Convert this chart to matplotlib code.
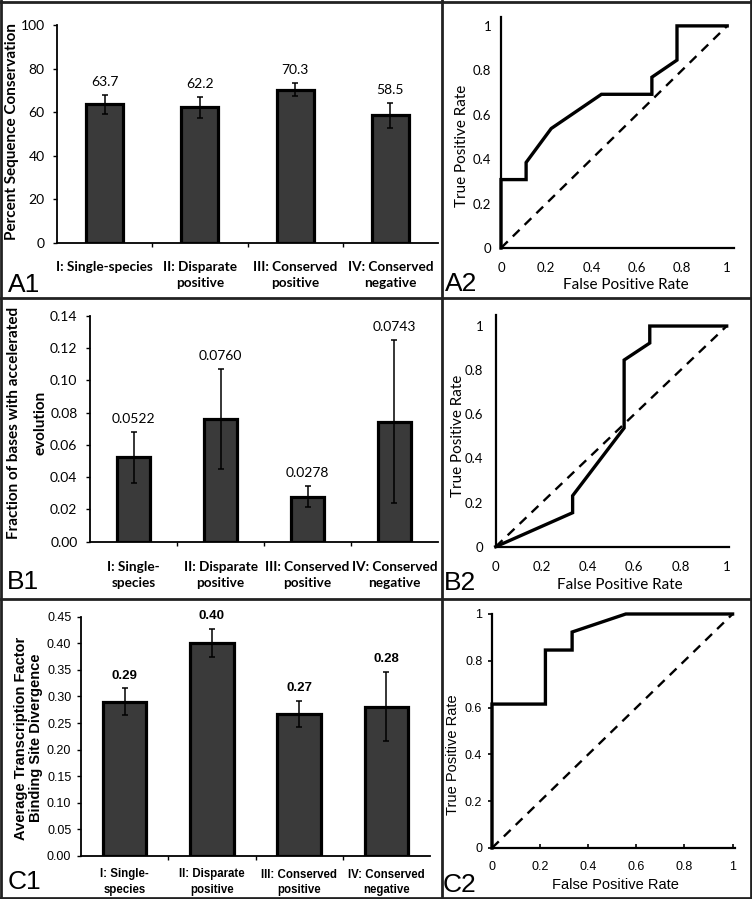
import matplotlib
matplotlib.use("Agg")
import matplotlib.pyplot as plt
from matplotlib.lines import Line2D
import numpy as np

# ---- data ----
cats_a = ["I: Single-species", "II: Disparate\npositive", "III: Conserved\npositive", "IV: Conserved\nnegative"]
cats_bc = ["I: Single-\nspecies", "II: Disparate\npositive", "III: Conserved\npositive", "IV: Conserved\nnegative"]

a1_vals = [63.7, 62.2, 70.3, 58.5]
a1_err = [4.4, 5.0, 3.0, 5.6]
a1_labels = ["63.7", "62.2", "70.3", "58.5"]

b1_vals = [0.0522, 0.0760, 0.0278, 0.0743]
b1_err = [0.0158, 0.031, 0.0065, 0.0505]
b1_labels = ["0.0522", "0.0760", "0.0278", "0.0743"]

c1_vals = [0.290, 0.401, 0.267, 0.281]
c1_err = [0.025, 0.026, 0.024, 0.065]
c1_labels = ["0.29", "0.40", "0.27", "0.28"]

a2_fpr = [0, 0, 0.111, 0.111, 0.222, 0.444, 0.667, 0.667, 0.778, 0.778, 1.0]
a2_tpr = [0, 0.308, 0.308, 0.385, 0.538, 0.692, 0.692, 0.769, 0.846, 1.0, 1.0]

b2_fpr = [0, 0.333, 0.333, 0.556, 0.556, 0.667, 0.667, 1.0]
b2_tpr = [0, 0.154, 0.231, 0.538, 0.846, 0.923, 1.0, 1.0]

c2_fpr = [0, 0, 0.222, 0.222, 0.333, 0.333, 0.556, 1.0]
c2_tpr = [0, 0.615, 0.615, 0.846, 0.846, 0.923, 1.0, 1.0]

roc_ticks = [0, 0.2, 0.4, 0.6, 0.8, 1]
roc_ticklabels = ["0", "0.2", "0.4", "0.6", "0.8", "1"]

W, H = 752, 899
fig = plt.figure(figsize=(W / 100, H / 100), dpi=100)

GILL = "Lato"
ARIAL = "Liberation Sans"
BARCOL = "#3a3a3a"


def box(x0, x1, y_bottom, y_top):
    # pixel box -> figure fraction rect
    return [x0 / W, 1 - y_bottom / H, (x1 - x0) / W, (y_bottom - y_top) / H]


def bar_panel(rect, vals, errs, labels, cats, ymax, yticks, ytickfmt, font, fs,
              ylabel, ylabel_spacing, ylab_xy, width, pad_cat, label_bold):
    ax = fig.add_axes(rect)
    x = np.arange(len(vals))
    ax.bar(x, vals, width=width, color=BARCOL, edgecolor="black", linewidth=2.3, zorder=2)
    ax.errorbar(x, vals, yerr=errs, fmt="none", ecolor="black", elinewidth=1.1,
                capsize=2, capthick=1.1, zorder=3)
    for xi, v, e, t in zip(x, vals, errs, labels):
        ax.annotate(t, (xi, v + e), xytext=(0, 5), textcoords="offset points",
                    ha="center", va="bottom", fontsize=fs["val"], family=font,
                    fontweight="bold" if label_bold else "normal")
    ax.set_xlim(-0.5, len(vals) - 0.5)
    ax.set_ylim(0, ymax)
    ax.set_yticks(yticks)
    ax.set_yticklabels([ytickfmt.format(t) for t in yticks], family=font, fontsize=fs["tick"])
    ax.set_xticks(x)
    ax.set_xticklabels(cats, family=font, fontsize=fs["cat"], fontweight="bold",
                       multialignment="center", linespacing=1.35)
    ax.set_xticks(np.arange(len(vals) - 1) + 0.5, minor=True)
    ax.tick_params(axis="x", which="major", length=0, pad=pad_cat)
    ax.tick_params(axis="x", which="minor", length=3, width=1, direction="out")
    ax.tick_params(axis="y", length=3, width=1, direction="out", pad=fs["ypad"])
    for s in ["top", "right"]:
        ax.spines[s].set_visible(False)
    for s in ["left", "bottom"]:
        ax.spines[s].set_linewidth(1.3)
    ax.set_ylabel(ylabel, family=font, fontsize=fs["ylab"], fontweight="bold",
                  linespacing=ylabel_spacing, multialignment="center")
    ax.yaxis.set_label_coords(*ylab_xy)
    ax.yaxis.label.set_va("center")
    return ax


def roc_panel(rect, fpr, tpr, xmax, ymax, font, fsize, xpad, ypad, ylab_xy, xlab_xy,
              c_style=False):
    ax = fig.add_axes(rect)
    ax.plot([0, 1], [0, 1], linestyle=(0, (4, 3)), color="black", linewidth=1.7, zorder=2)
    ax.plot(fpr, tpr, color="black", linewidth=2.4, solid_joinstyle="miter", zorder=3,
            clip_on=False)
    ax.set_xlim(0, xmax)
    ax.set_ylim(0, ymax)
    ax.set_xticks(roc_ticks)
    ax.set_yticks(roc_ticks)
    ax.set_xticklabels(roc_ticklabels, family=font, fontsize=fsize)
    ax.set_yticklabels(roc_ticklabels, family=font, fontsize=fsize)
    if c_style:
        ax.tick_params(axis="x", direction="in", length=3, width=1.2, pad=xpad)
        ax.tick_params(axis="y", direction="out", length=3, width=1.2, pad=ypad)
    else:
        ax.tick_params(axis="x", length=0, pad=xpad)
        ax.tick_params(axis="y", length=0, pad=ypad)
    for s in ["top", "right"]:
        ax.spines[s].set_visible(False)
    for s in ["left", "bottom"]:
        ax.spines[s].set_linewidth(1.6)
    ax.set_xlabel("False Positive Rate", family=font, fontsize=fsize + 1.5)
    ax.set_ylabel("True Positive Rate", family=font, fontsize=fsize + 1.5)
    ax.xaxis.set_label_coords(*xlab_xy)
    ax.yaxis.set_label_coords(*ylab_xy)
    ax.xaxis.label.set_va("center")
    ax.yaxis.label.set_va("center")
    return ax


fs_gill = {"val": 10, "tick": 10, "cat": 9.8, "ylab": 11, "ypad": 6}
fs_arial = {"val": 9.5, "tick": 9, "cat": 8.3, "ylab": 10.5, "ypad": 4}

# A1
bar_panel(box(57, 438, 243, 25), a1_vals, a1_err, a1_labels, cats_a, 100,
          [0, 20, 40, 60, 80, 100], "{:g}", GILL, fs_gill,
          "Percent Sequence Conservation", 1.2, (-0.118, 0.51), 0.39, 13, False)
# B1
bar_panel(box(90, 438, 541.7, 315.7), b1_vals, b1_err, b1_labels, cats_bc, 0.14,
          [0, 0.02, 0.04, 0.06, 0.08, 0.10, 0.12, 0.14], "{:.2f}", GILL, fs_gill,
          "Fraction of bases with accelerated\nevolution", 2.1, (-0.181, 0.525), 0.38, 14, False)
# C1
bar_panel(box(81, 430, 856, 616.7), c1_vals, c1_err, c1_labels, cats_bc, 0.45,
          [0, 0.05, 0.10, 0.15, 0.20, 0.25, 0.30, 0.35, 0.40, 0.45], "{:.2f}", ARIAL, fs_arial,
          "Average Transcription Factor\nBinding Site Divergence", 1.15, (-0.150, 0.493), 0.5, 9, True)

# A2
roc_panel(box(501, 734, 248, 17), a2_fpr, a2_tpr, 1.03, 1.04, GILL, 9.5, 10, 7,
          (-0.169, 0.44), (0.536, -0.16))
# B2
roc_panel(box(495.7, 729, 546.7, 315), b2_fpr, b2_tpr, 1.01, 1.05, GILL, 9.5, 10, 9,
          (-0.162, 0.478), (0.533, -0.165))
# C2
roc_panel(box(492, 735, 848, 614), c2_fpr, c2_tpr, 1.01, 1.0, ARIAL, 9, 9, 4,
          (-0.16, 0.40), (0.506, -0.158), c_style=True)

# panel letters
for t, xp, yp in [("A1", 8, 292), ("A2", 445, 291), ("B1", 7, 589),
                  ("B2", 444, 590), ("C1", 8, 889), ("C2", 443, 892)]:
    fig.text(xp / W, 1 - yp / H, t, family=ARIAL, fontsize=19, va="baseline", ha="left")

# frame and dividers
for (x0, y0, x1, y1) in [(442, 0, 442, H), (0, 298, W, 298), (0, 599, W, 599),
                         (1.5, 0, 1.5, H), (W - 1.5, 0, W - 1.5, H),
                         (0, 1.5, W, 1.5), (0, H - 1.5, W, H - 1.5)]:
    fig.add_artist(Line2D([x0 / W, x1 / W], [1 - y0 / H, 1 - y1 / H],
                          transform=fig.transFigure, color="#222222", linewidth=2))

fig.savefig("out.png", dpi=100)
